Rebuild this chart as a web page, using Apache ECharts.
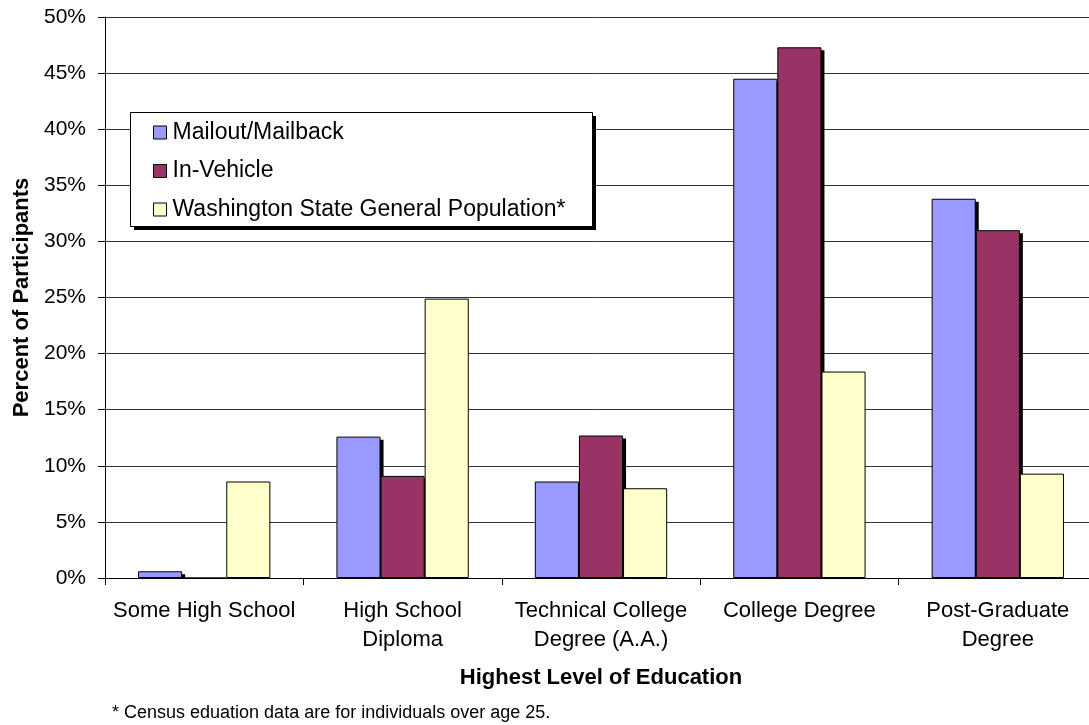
<!DOCTYPE html>
<html>
<head>
<meta charset="utf-8">
<script src="https://cdn.jsdelivr.net/npm/echarts@6/dist/echarts.min.js"></script>
<style>
  html, body { margin: 0; padding: 0; background: #fff; }
  #chart { width: 1089px; height: 725px; }
</style>
</head>
<body>
<div id="chart"></div>
<script>
// education levels (x axis)
const categories = [
  "Some High School",
  "High School\nDiploma",
  "Technical College\nDegree (A.A.)",
  "College Degree",
  "Post-Graduate\nDegree"
];
// percent of participants per series
const mailout = [0.6, 12.6, 8.6, 44.5, 33.8];
const inVehicle = [0, 9.1, 12.7, 47.3, 31.0];
const waState = [8.6, 24.9, 8.0, 18.4, 9.3];

const seriesNames = ["Mailout/Mailback", "In-Vehicle", "Washington State General Population*"];

const chart = echarts.init(document.getElementById("chart"));

const font = "Arial, 'Liberation Sans', sans-serif";
const catGap = 0.333; // gap share of each category band
const nBars = 3;
const shadowOff = 3;

function barSeries(name, data, color) {
  return {
    name: name,
    type: "bar",
    data: data,
    z: 2,
    barGap: "0%",
    barCategoryGap: (catGap * 100) + "%",
    itemStyle: { color: color, borderColor: "#000", borderWidth: 1 },
    emphasis: { disabled: true }
  };
}

// solid drop shadow behind a bar series (Excel style), clipped at the axis
function shadowSeries(data, k) {
  return {
    type: "custom",
    z: 1,
    silent: true,
    data: data.map((v, i) => [i, v]),
    encode: { x: 0, y: 1 },
    renderItem: function (params, api) {
      const top = api.coord([api.value(0), api.value(1)]);
      const base = api.coord([api.value(0), 0]);
      const band = api.size([1, 0])[0];
      const w = band * (1 - catGap) / nBars;
      const x = top[0] - (w * nBars) / 2 + k * w;
      const h = base[1] - top[1] - shadowOff;
      if (h <= 0) return null;
      return {
        type: "rect",
        shape: { x: x + shadowOff, y: top[1] + shadowOff, width: w, height: h },
        style: { fill: "#000" }
      };
    }
  };
}

const option = {
  animation: false,
  backgroundColor: "#fff",
  textStyle: { fontFamily: font, color: "#000" },
  grid: {
    left: 105,
    top: 17,
    right: -8,
    bottom: 147,
    outerBoundsMode: "none"
  },
  graphic: [
    // legend frame with its shadow
    { type: "rect", z: 90, left: 134, top: 116, shape: { width: 462, height: 114 }, style: { fill: "#000" } },
    { type: "rect", z: 91, left: 130, top: 112, shape: { width: 462, height: 114 }, style: { fill: "#fff", stroke: "#000", lineWidth: 1 } }
  ],
  legend: {
    orient: "vertical",
    left: 153,
    top: 121,
    z: 100,
    padding: 0,
    itemGap: 15.5,
    itemWidth: 13,
    itemHeight: 13,
    icon: "rect",
    itemStyle: { borderColor: "#000", borderWidth: 1 },
    textStyle: { fontSize: 23, fontFamily: font, color: "#000", padding: [0, 0, 0, 1] },
    data: seriesNames
  },
  xAxis: {
    type: "category",
    data: categories,
    name: "Highest Level of Education",
    nameLocation: "middle",
    nameGap: 89,
    nameTextStyle: { fontSize: 22, fontWeight: "bold", fontFamily: font, color: "#000" },
    axisLine: { lineStyle: { color: "#000", width: 1 } },
    axisTick: { show: true, length: 7, lineStyle: { color: "#000" } },
    axisLabel: {
      interval: 0,
      fontSize: 22,
      lineHeight: 29,
      margin: 18,
      color: "#000",
      fontFamily: font
    }
  },
  yAxis: {
    type: "value",
    min: 0,
    max: 50,
    interval: 5,
    name: "Percent of Participants",
    nameLocation: "middle",
    nameGap: 72,
    nameTextStyle: { fontSize: 22, fontWeight: "bold", fontFamily: font, color: "#000" },
    axisLine: { show: true, lineStyle: { color: "#000", width: 1 } },
    axisTick: { show: true, length: 7, lineStyle: { color: "#000" } },
    axisLabel: {
      formatter: "{value}%",
      fontSize: 21,
      margin: 19,
      color: "#000",
      fontFamily: font
    },
    splitLine: { lineStyle: { color: "#333", width: 1 } }
  },
  title: {
    text: "* Census eduation data are for individuals over age 25.",
    left: 112,
    top: 704,
    padding: 0,
    textStyle: { fontSize: 18, fontWeight: "normal", fontFamily: font, color: "#000" }
  },
  series: [
    shadowSeries(mailout, 0),
    shadowSeries(inVehicle, 1),
    barSeries(seriesNames[0], mailout, "#9999FF"),
    barSeries(seriesNames[1], inVehicle, "#993366"),
    barSeries(seriesNames[2], waState, "#FFFFCC")
  ]
};

chart.setOption(option);
window.addEventListener("resize", () => chart.resize());
</script>
</body>
</html>
